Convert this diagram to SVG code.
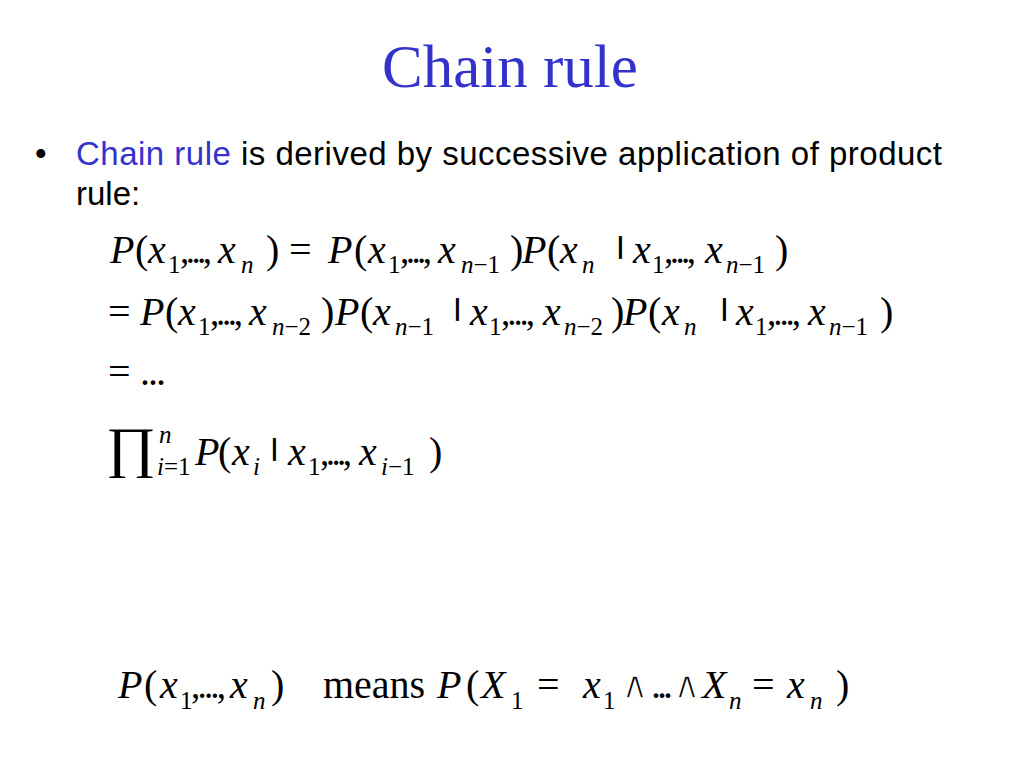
<svg xmlns="http://www.w3.org/2000/svg" width="1024" height="768" viewBox="0 0 1024 768">
<style>
.title{font-family:"Liberation Serif","Times New Roman",serif;font-size:61px;fill:#3333CC}
.b{font-family:"Liberation Sans",Arial,sans-serif;font-size:33px;fill:#000}
.blue{fill:#3333CC}
.m{font-family:"Liberation Serif","Times New Roman",serif;font-size:40px;fill:#000}
.i{font-style:italic}
.s{font-size:25px}
.c{font-size:37px}
.bar{font-family:"Liberation Serif",serif;font-size:24px;fill:#000;stroke:#000;stroke-width:1.8}
.big{font-family:"Liberation Serif","DejaVu Serif",serif;font-size:56px;fill:#000}
.and{font-family:"DejaVu Sans",sans-serif;font-size:38px;fill:#000;stroke:#fff;stroke-width:1.5}
</style>
<rect width="1024" height="768" fill="#fff"/>
<g id="title">
<text class="title" x="510" y="87" text-anchor="middle">Chain rule</text>
</g>
<g id="bullet">
<text class="b" x="35" y="165">•</text>
<text class="b" x="76" y="165" textLength="866" lengthAdjust="spacing"><tspan class="blue">Chain rule</tspan> is derived by successive application of product</text>
<text class="b" x="76" y="205">rule:</text>
</g>
<g id="eq1">
<text class="m i" x="110" y="263">P</text>
<text class="m" x="135" y="263">(</text>
<text class="m i" x="148" y="263">x</text>
<text class="m s" x="168" y="273">1</text>
<text class="m c" x="180" y="263" textLength="32" lengthAdjust="spacing">,...,</text>
<text class="m i" x="218" y="263">x</text>
<text class="m s i" x="241" y="273">n</text>
<text class="m" x="266" y="263">)</text>
<text class="m" x="289" y="263">=</text>
<text class="m i" x="328" y="263">P</text>
<text class="m" x="354" y="263">(</text>
<text class="m i" x="368" y="263">x</text>
<text class="m s" x="388" y="273">1</text>
<text class="m c" x="400" y="263" textLength="32" lengthAdjust="spacing">,...,</text>
<text class="m i" x="438" y="263">x</text>
<text class="m s" x="461" y="273"><tspan class="i">n</tspan>−1</text>
<text class="m" x="510" y="263">)</text>
<text class="m i" x="522" y="263">P</text>
<text class="m" x="547" y="263">(</text>
<text class="m i" x="560" y="263">x</text>
<text class="m s i" x="582" y="273">n</text>
<text class="bar" x="618" y="253">|</text>
<text class="m i" x="633" y="263">x</text>
<text class="m s" x="652" y="273">1</text>
<text class="m c" x="664" y="263" textLength="32" lengthAdjust="spacing">,...,</text>
<text class="m i" x="705" y="263">x</text>
<text class="m s" x="726" y="273"><tspan class="i">n</tspan>−1</text>
<text class="m" x="775" y="263">)</text>
</g>
<g id="eq2">
<text class="m" x="108" y="325">=</text>
<text class="m i" x="140" y="325">P</text>
<text class="m" x="165" y="325">(</text>
<text class="m i" x="178" y="325">x</text>
<text class="m s" x="198" y="335">1</text>
<text class="m c" x="210" y="325" textLength="33" lengthAdjust="spacing">,...,</text>
<text class="m i" x="249" y="325">x</text>
<text class="m s" x="272" y="335"><tspan class="i">n</tspan>−2</text>
<text class="m" x="321" y="325">)</text>
<text class="m i" x="335" y="325">P</text>
<text class="m" x="360" y="325">(</text>
<text class="m i" x="373" y="325">x</text>
<text class="m s" x="395" y="335"><tspan class="i">n</tspan>−1</text>
<text class="bar" x="455" y="315">|</text>
<text class="m i" x="470" y="325">x</text>
<text class="m s" x="489" y="335">1</text>
<text class="m c" x="501" y="325" textLength="34" lengthAdjust="spacing">,...,</text>
<text class="m i" x="543" y="325">x</text>
<text class="m s" x="564" y="335"><tspan class="i">n</tspan>−2</text>
<text class="m" x="611" y="325">)</text>
<text class="m i" x="623" y="325">P</text>
<text class="m" x="648" y="325">(</text>
<text class="m i" x="662" y="325">x</text>
<text class="m s i" x="684" y="335">n</text>
<text class="bar" x="722" y="315">|</text>
<text class="m i" x="736" y="325">x</text>
<text class="m s" x="755" y="335">1</text>
<text class="m c" x="767" y="325" textLength="34" lengthAdjust="spacing">,...,</text>
<text class="m i" x="808" y="325">x</text>
<text class="m s" x="829" y="335"><tspan class="i">n</tspan>−1</text>
<text class="m" x="880" y="325">)</text>
</g>
<g id="eq3">
<text class="m" x="108" y="385">=</text>
<text class="m" x="140" y="385" textLength="26" lengthAdjust="spacing">...</text>
</g>
<g id="eq4">
<text class="big" x="106" y="466" textLength="50" lengthAdjust="spacingAndGlyphs">∏</text>
<text class="m s i" x="159" y="443">n</text>
<text class="m s" x="157" y="475"><tspan class="i">i</tspan>=1</text>
<text class="m i" x="195" y="465">P</text>
<text class="m" x="218" y="465">(</text>
<text class="m i" x="232" y="465">x</text>
<text class="m s i" x="253" y="475">i</text>
<text class="bar" x="272" y="455">|</text>
<text class="m i" x="288" y="465">x</text>
<text class="m s" x="308" y="475">1</text>
<text class="m c" x="320" y="465" textLength="32" lengthAdjust="spacing">,...,</text>
<text class="m i" x="359" y="465">x</text>
<text class="m s" x="381" y="475"><tspan class="i">i</tspan>−1</text>
<text class="m" x="429" y="465">)</text>
</g>
<g id="eq5">
<text class="m i" x="118" y="698">P</text>
<text class="m" x="144" y="698">(</text>
<text class="m i" x="160" y="698">x</text>
<text class="m s" x="180" y="709">1</text>
<text class="m c" x="191" y="698" textLength="35" lengthAdjust="spacing">,...,</text>
<text class="m i" x="230" y="698">x</text>
<text class="m s i" x="253" y="709">n</text>
<text class="m" x="271" y="698">)</text>
<text class="m" x="323" y="698">means</text>
<text class="m i" x="437" y="698">P</text>
<text class="m" x="466" y="698">(</text>
<text class="m i" x="481" y="698">X</text>
<text class="m s" x="511" y="709">1</text>
<text class="m" x="537" y="698">=</text>
<text class="m i" x="583" y="698">x</text>
<text class="m s" x="603" y="709">1</text>
<text class="and" x="621" y="698">∧</text>
<text class="m" x="651" y="698" textLength="22" lengthAdjust="spacing">...</text>
<text class="and" x="673" y="698">∧</text>
<text class="m i" x="702" y="698">X</text>
<text class="m s i" x="729" y="709">n</text>
<text class="m" x="752" y="698">=</text>
<text class="m i" x="787" y="698">x</text>
<text class="m s i" x="810" y="709">n</text>
<text class="m" x="836" y="698">)</text>
</g>
</svg>
